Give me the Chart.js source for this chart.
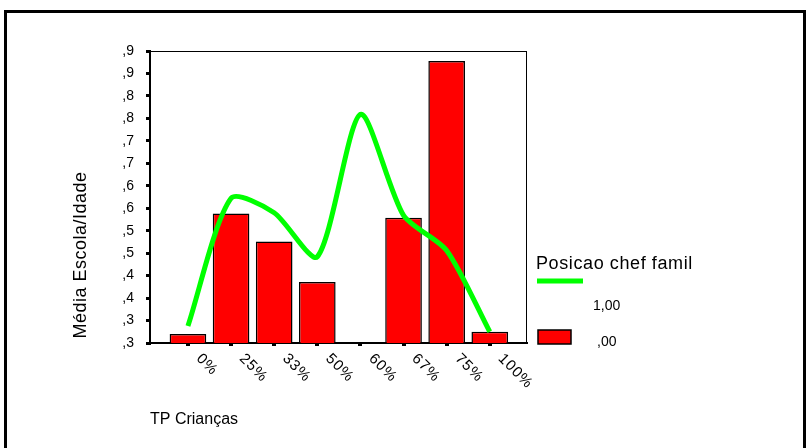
<!DOCTYPE html>
<html>
<head>
<meta charset="utf-8">
<script src="https://cdn.jsdelivr.net/npm/chart.js@4/dist/chart.umd.min.js"></script>
<style>
  html, body { margin: 0; padding: 0; background: #fff; }
  canvas { display: block; }
</style>
</head>
<body>
<canvas id="c" width="810" height="448"></canvas>
<script>
const xCategories = ['0%', '25%', '33%', '50%', '60%', '67%', '75%', '100%'];
const barValues = [0.320, 0.588, 0.526, 0.436, null, 0.579, 0.928, 0.325];   // series ",00"
const lineValues = [0.338, 0.622, 0.590, 0.492, 0.809, 0.584, 0.506, 0.325]; // series "1,00"
const yTickLabels = [',3', ',3', ',4', ',4', ',5', ',5', ',6', ',6', ',7', ',7', ',8', ',8', ',9', ',9'];
const seriesNames = ['1,00', ',00'];
const legendTitle = 'Posicao chef famil';
const xTitle = 'TP Crianças';
const yTitle = 'Média Escola/Idade';

const FONT = '"Liberation Sans", Arial, sans-serif';

const decor = {
  id: 'decor',
  beforeDraw(chart) {
    const ctx = chart.ctx;
    ctx.save();
    ctx.fillStyle = '#fff';
    ctx.fillRect(0, 0, chart.width, chart.height);
    ctx.strokeStyle = '#000';
    ctx.lineWidth = 3;
    ctx.beginPath();
    ctx.moveTo(5.5, 460);
    ctx.lineTo(5.5, 11.5);
    ctx.lineTo(804.5, 11.5);
    ctx.lineTo(804.5, 460);
    ctx.stroke();
    ctx.restore();
  },
  beforeDatasetsDraw(chart) {
    const ctx = chart.ctx, a = chart.chartArea;
    ctx.save();
    ctx.strokeStyle = '#000';
    ctx.lineWidth = 1;
    ctx.strokeRect(a.left + 0.5, a.top + 0.5, a.right - a.left, a.bottom - a.top);
    ctx.restore();
  },
  afterDraw(chart) {
    const ctx = chart.ctx, xs = chart.scales.x;
    ctx.save();
    ctx.fillStyle = '#000';
    ctx.font = '15px ' + FONT;
    try { ctx.letterSpacing = '1px'; } catch (e) {}
    ctx.textAlign = 'left';
    ctx.textBaseline = 'top';
    xCategories.forEach((lab, i) => {
      const px = xs.getPixelForValue(i);
      ctx.save();
      ctx.translate(px + 16, 351);
      ctx.rotate(Math.PI / 4);
      ctx.fillText(lab, 0, 0);
      ctx.restore();
    });
    try { ctx.letterSpacing = '0px'; } catch (e) {}
    ctx.font = '16px ' + FONT;
    ctx.textBaseline = 'alphabetic';
    ctx.fillText(xTitle, 150, 424);
    ctx.save();
    ctx.translate(86, 255);
    ctx.rotate(-Math.PI / 2);
    ctx.textAlign = 'center';
    ctx.font = '18px ' + FONT;
    try { ctx.letterSpacing = '0.5px'; } catch (e) {}
    ctx.fillText(yTitle, 0, 0);
    ctx.restore();
    const ds = chart.data.datasets;
    ctx.font = '18px ' + FONT;
    try { ctx.letterSpacing = '0.6px'; } catch (e) {}
    ctx.textAlign = 'left';
    ctx.fillText(legendTitle, 536, 269);
    try { ctx.letterSpacing = '0px'; } catch (e) {}
    ctx.strokeStyle = ds[0].borderColor;
    ctx.lineWidth = 5;
    ctx.beginPath();
    ctx.moveTo(537, 281);
    ctx.lineTo(583, 281);
    ctx.stroke();
    ctx.font = '14px ' + FONT;
    ctx.fillStyle = '#000';
    ctx.fillText(seriesNames[0], 593, 310);
    ctx.fillStyle = ds[1].backgroundColor;
    ctx.fillRect(538, 330, 33, 14);
    ctx.strokeStyle = '#000';
    ctx.lineWidth = 1.5;
    ctx.strokeRect(538, 330, 33, 14);
    ctx.fillStyle = '#000';
    ctx.fillText(seriesNames[1], 597, 346);
    ctx.restore();
  }
};

new Chart(document.getElementById('c'), {
  data: {
    datasets: [
      {
        type: 'line',
        label: seriesNames[0],
        data: lineValues.map((v, i) => ({ x: i, y: v })),
        borderColor: '#00ff00',
        borderWidth: 5,
        pointRadius: 0,
        tension: 0.25,
        fill: false,
        order: 0
      },
      {
        type: 'bar',
        label: seriesNames[1],
        data: barValues.map((v, i) => ({ x: i, y: v })),
        backgroundColor: '#ff0000',
        borderColor: '#000000',
        borderWidth: 1.5,
        categoryPercentage: 1,
        barPercentage: 0.85,
        order: 1
      }
    ]
  },
  options: {
    responsive: false,
    animation: false,
    layout: { padding: { left: 100, top: 51, right: 284, bottom: 85 } },
    plugins: { legend: { display: false }, tooltip: { enabled: false } },
    scales: {
      x: {
        type: 'linear',
        offset: false,
        min: -0.88,
        max: 7.84,
        afterBuildTicks: s => { s.ticks = xCategories.map((c, i) => ({ value: i })); },
        afterFit: s => { s.height = 20; },
        ticks: { display: false },
        grid: { display: true, offset: false, drawOnChartArea: false, drawTicks: true, tickLength: 3, color: '#000', lineWidth: 4 },
        border: { display: true, color: '#000', width: 2 }
      },
      y: {
        type: 'linear',
        min: 0.30,
        max: 0.95,
        afterFit: s => { s.width = 50; },
        afterBuildTicks: s => { s.ticks = yTickLabels.map((l, i) => ({ value: 0.30 + i * 0.05 })); },
        ticks: {
          callback: (v, i) => yTickLabels[i],
          color: '#000',
          font: { family: FONT, size: 14 },
          padding: 12
        },
        grid: { display: true, drawOnChartArea: false, drawTicks: true, tickLength: 4, color: '#000', lineWidth: 3 },
        border: { display: true, color: '#000', width: 2 }
      }
    }
  },
  plugins: [decor]
});
</script>
</body>
</html>
